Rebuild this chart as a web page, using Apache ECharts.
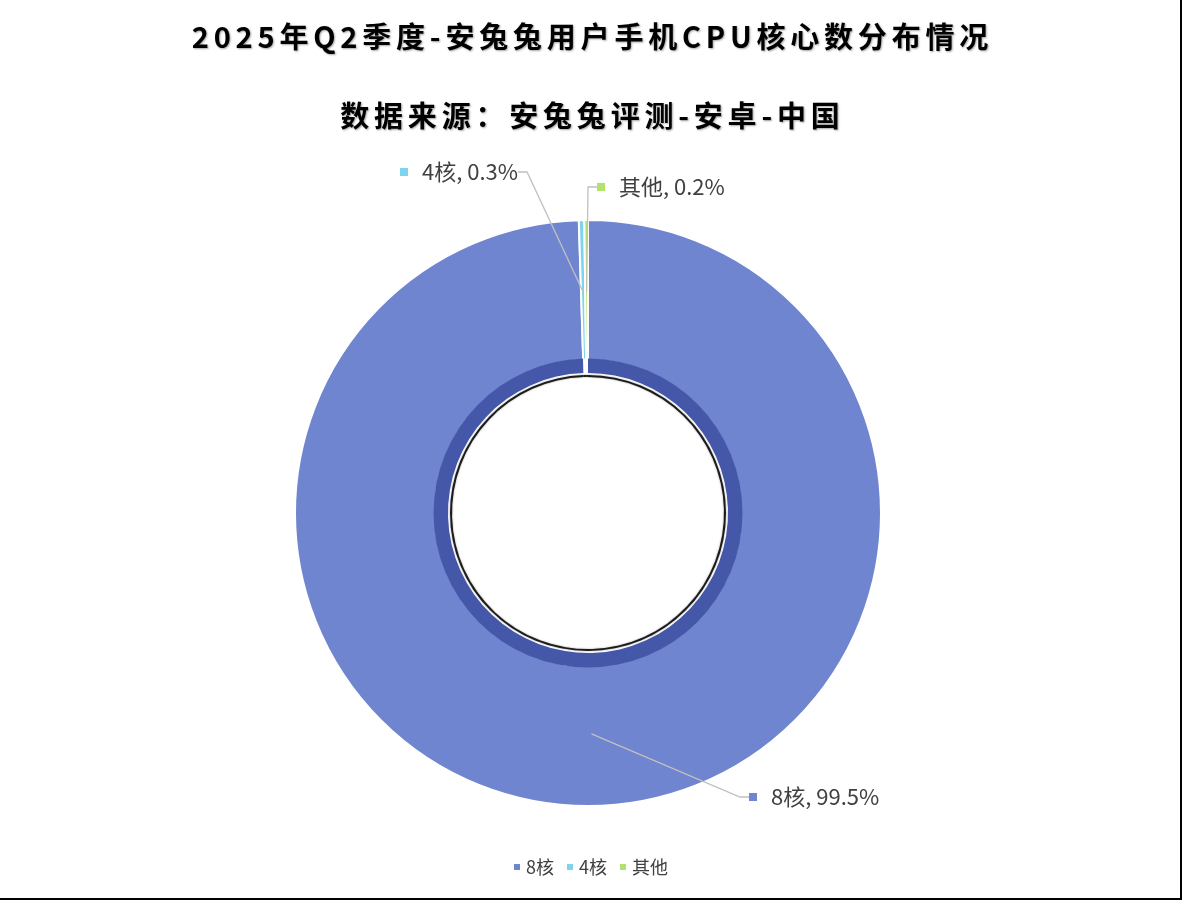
<!DOCTYPE html>
<html>
<head>
<meta charset="utf-8">
<script src="https://cdn.jsdelivr.net/npm/echarts@6/dist/echarts.min.js"></script>
<style>
html,body{margin:0;padding:0;background:#fff;}
#main{width:1182px;height:900px;box-sizing:border-box;border-right:2px solid #000;border-bottom:2px solid #000;}
</style>
</head>
<body>
<div id="main"></div>
<script>
// ---- data ----
const titleText = '2025年Q2季度-安兔兔用户手机CPU核心数分布情况';
const subtitleText = '数据来源：安兔兔评测-安卓-中国';
const categories = ['8核', '4核', '其他'];
const shares = [99.5, 0.3, 0.2];

// ---- styles ----
const sliceColors = ['#7085D0', '#7DD4EE', '#B3E26C'];
const innerBandColors = ['#4557A9', '#ffffff', '#ffffff'];
const labelAnchors = [ // label placement (px): left edge of legend key, vertical middle
  {x: 749, y: 797},
  {x: 400, y: 172},
  {x: 597, y: 187}
];
const CENTER = [588, 513];
const FONT = '"Noto Sans CJK SC", "Noto Sans", sans-serif';

function items(colors) {
  return categories.map((n, i) => ({
    name: n,
    value: shares[i],
    itemStyle: colors ? {color: colors[i]} : undefined
  }));
}

// spaced title: each character kept as real text, with a little tracking
function spaced(s) {
  return Array.from(s).map(ch => `{c|${ch}}`).join('');
}
const titleStyle = {
  fontFamily: FONT, fontSize: 29, fontWeight: 'bold', color: '#000',
  textShadowColor: 'rgba(0,0,0,0.35)', textShadowBlur: 2, textShadowOffsetX: 1, textShadowOffsetY: 1
};
const titleRich = {c: Object.assign({padding: [0, 2.4, 0, 2.4]}, titleStyle)};

const rich = {t: {fontSize: 22, color: '#404040', fontFamily: FONT, padding: [0, 0, 0, 14]}};
categories.forEach((n, i) => {
  rich['s' + i] = {width: 8, height: 8, backgroundColor: sliceColors[i]};
});

const chart = echarts.init(document.getElementById('main'));
chart.setOption({
  animation: false,
  backgroundColor: '#fff',
  color: sliceColors,
  title: [
    {
      text: spaced(titleText), left: 'center', top: 17,
      textStyle: Object.assign({rich: titleRich}, titleStyle)
    },
    {
      text: spaced(subtitleText), left: 'center', top: 96,
      textStyle: Object.assign({rich: titleRich}, titleStyle)
    }
  ],
  legend: {
    data: categories,
    bottom: 17,
    left: 'center',
    icon: 'rect',
    itemWidth: 8,
    itemHeight: 8,
    itemGap: 11,
    textStyle: {fontFamily: FONT, fontSize: 18, color: '#404040'}
  },
  series: [
    {
      name: 'main',
      type: 'pie',
      center: CENTER,
      radius: [153, 293],
      startAngle: 90,
      clockwise: true,
      silent: true,
      itemStyle: {borderColor: '#fff', borderWidth: 2},
      label: {show: false},
      labelLine: {show: false},
      data: items(sliceColors),
      z: 2
    },
    {
      name: 'band',
      type: 'pie',
      center: CENTER,
      radius: [140, 154.5],
      startAngle: 90,
      silent: true,
      itemStyle: {borderWidth: 0},
      label: {show: false},
      labelLine: {show: false},
      data: items(innerBandColors),
      z: 3
    },
    {
      name: 'rim',
      type: 'pie',
      center: CENTER,
      radius: [136, 138],
      startAngle: 90,
      silent: true,
      itemStyle: {borderWidth: 0, color: '#1c1c1c', shadowColor: 'rgba(0,0,0,0.4)', shadowBlur: 2},
      label: {show: false},
      labelLine: {show: false},
      data: items(['#1c1c1c', '#1c1c1c', '#1c1c1c']),
      z: 3
    },
    {
      name: 'labels',
      type: 'pie',
      center: CENTER,
      radius: [0, 221],
      startAngle: 90,
      silent: true,
      avoidLabelOverlap: false,
      itemStyle: {color: 'rgba(0,0,0,0)', borderWidth: 0},
      label: {
        show: true,
        position: 'outside',
        formatter: p => `{s${p.dataIndex}|}{t|${p.name}, ${p.value}%}`,
        rich: rich
      },
      labelLine: {
        show: true, length: 10, length2: 9,
        lineStyle: {color: '#c0c0c0', width: 1.3}
      },
      labelLayout: function (params) {
        const a = labelAnchors[params.dataIndex];
        return {x: a.x, y: a.y, align: 'left', verticalAlign: 'middle', hideOverlap: false};
      },
      data: items(null),
      z: 5
    }
  ]
});
</script>
</body>
</html>
